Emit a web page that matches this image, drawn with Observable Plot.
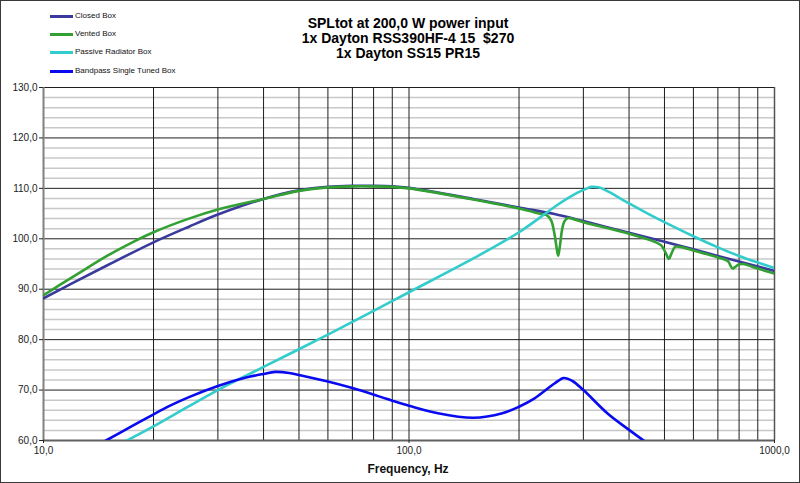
<!DOCTYPE html>
<html>
<head>
<meta charset="utf-8">
<script src="https://cdn.jsdelivr.net/npm/d3@7"></script>
<script src="https://cdn.jsdelivr.net/npm/@observablehq/plot@0.6"></script>
<style>
  html, body { margin: 0; padding: 0; background: #fff; }
  #wrap { position: relative; width: 800px; height: 483px; overflow: hidden; background: #fff;
          font-family: Arial, "Liberation Sans", sans-serif; }
  #header { position: relative; height: 78px; }
  #title { position: absolute; left: 208px; width: 400px; top: 16px; text-align: center;
           font-weight: bold; font-size: 14px; line-height: 15px; color: #000; white-space: pre; }
  .leg { position: absolute; left: 0; height: 10px; width: 200px; }
  .leg .sw { position: absolute; left: 50px; top: 4px; width: 23px; height: 3px; }
  .leg .tx { position: absolute; left: 75px; top: 0; font-size: 8px; line-height: 10px; color: #111; white-space: nowrap; }
  #xlabel { height: 25px; box-sizing: border-box; padding-top: 4px; font-size: 12px; line-height: 14px;
            font-weight: bold; color: #111; position: relative; }
  #xlabel span { position: absolute; left: 308px; width: 200px; text-align: center; }
  #frame { position: absolute; left: 0; top: 0; width: 800px; height: 483px; box-sizing: border-box;
           border: 1px solid #3a3a3a; pointer-events: none; }
  svg { display: block; }
</style>
</head>
<body>
<div id="wrap">
  <div id="header">
    <div id="legend"></div>
    <div id="title"></div>
  </div>
  <div id="chart"></div>
  <div id="xlabel"><span>Frequency, Hz</span></div>
  <div id="frame"></div>
</div>
<script>
// ---- Text ----
const titleLines = ["SPLtot at 200,0 W power input", "1x Dayton RSS390HF-4 15  $270", "1x Dayton SS15 PR15"];
const seriesNames = ["Closed Box", "Vented Box", "Passive Radiator Box", "Bandpass Single Tuned Box"];
const seriesColors = ["#3a3a9e", "#33a033", "#33cccc", "#0a0af0"];

// ---- Axis ticks ----
const xTickLabels = [10, 100, 1000];
const xGrid = [10,20,30,40,50,60,70,80,90,100,200,300,400,500,600,700,800,900,1000];
const yMajor = [60,70,80,90,100,110,120,130];
const yMinor = [62,64,66,68,72,74,76,78,82,84,86,88,92,94,96,98,102,104,106,108,112,114,116,118,122,124,126,128];

// ---- Closed Box ----
const freqClosed = [10,12,15,20,25,30,40,50,60,70,80,90,100,150,200,250,300,400,500,600,700,800,900,1000];
const splClosed  = [88.2,91.2,94.8,99.3,102.4,104.8,107.9,109.6,110.3,110.5,110.5,110.4,110.1,107.9,106.2,104.9,103.5,101.2,99.4,97.9,96.6,95.5,94.5,93.6];

// ---- Vented Box ----
const freqVented = [10,11,12.5,15,17.5,20,25,30,40,50,60,70,80,90,100,150,200,230,239,245,250,253,256,259,262,266,272,285,300,400,470,490,503,514,522,535,560,600,700,745,760,769,780,798,820,900,1000];
const splVented  = [88.8,90.7,93.2,96.7,99.3,101.3,104.0,105.8,107.9,109.5,110.2,110.4,110.4,110.3,110.0,107.8,106.0,104.9,104.6,103.6,101.0,98.6,96.6,98.8,101.6,103.4,104.1,103.8,103.3,101.0,99.4,98.7,97.3,96.0,97.0,98.4,98.3,97.7,96.3,95.6,94.5,94.1,94.4,94.9,95.0,94.1,93.1];

// ---- Passive Radiator Box ----
const freqPR = [16,20,25,30,40,60,80,100,150,200,230,250,270,290,305,315,330,350,400,450,500,600,700,800,900,1000];
const splPR  = [59.1,62.8,66.8,70.0,74.6,81.0,85.7,89.4,96.1,101.3,104.4,106.3,107.9,109.2,109.9,110.3,110.2,109.4,107.0,105.0,103.3,100.5,98.3,96.6,95.3,94.2];

// ---- Bandpass Single Tuned Box ----
const freqBP = [14,15,17.5,20,22.5,25,30,35,40,43,47,50,60,70,84,90,100,120,150,180,200,220,250,265,280,300,350,400,440,460];
const splBP  = [59.0,60.2,62.9,65.2,67.1,68.6,70.8,72.3,73.2,73.6,73.4,73.0,71.7,70.4,68.6,67.9,66.9,65.4,64.5,65.4,66.7,68.3,71.3,72.4,71.8,70.0,65.3,62.1,59.9,58.8];

const toRows = (fs, vs) => fs.map((f, i) => ({f, v: vs[i]}));
const series = [toRows(freqClosed, splClosed), toRows(freqVented, splVented), toRows(freqPR, splPR), toRows(freqBP, splBP)];
const fmt = d => d.toFixed(1).replace(".", ",");

// Title
document.getElementById("title").textContent = titleLines.join("\n");

// Legend
const legendY = [16, 34.3, 52.7, 71];
const legend = document.getElementById("legend");
seriesNames.forEach((name, i) => {
  const item = document.createElement("div");
  item.className = "leg";
  item.style.top = (legendY[i] - 5.5) + "px";
  const sw = document.createElement("div");
  sw.className = "sw";
  sw.style.background = seriesColors[i];
  const tx = document.createElement("div");
  tx.className = "tx";
  tx.textContent = name;
  item.appendChild(sw);
  item.appendChild(tx);
  legend.appendChild(item);
});

const chart = Plot.plot({
  width: 800,
  height: 380,
  marginTop: 9,
  marginBottom: 18,
  marginLeft: 43,
  marginRight: 26,
  style: {fontFamily: 'Arial, "Liberation Sans", sans-serif', fontSize: "10px", color: "#222", background: "#fff"},
  x: {type: "log", domain: [10, 1000]},
  y: {domain: [60, 130]},
  marks: [
    Plot.ruleY(yMinor, {stroke: "#c8c8c8", strokeWidth: 1.5}),
    Plot.ruleY(yMajor.filter(d => d > 60), {stroke: "#1e1e1e", strokeWidth: 1}),
    Plot.ruleX(xGrid.filter(d => d > 10 && d < 1000), {stroke: "#1e1e1e", strokeWidth: 1}),
    Plot.ruleX([1000], {stroke: "#555", strokeWidth: 1.5}),
    Plot.ruleX([10], {stroke: "#808080", strokeWidth: 2}),
    Plot.ruleY([60], {stroke: "#606060", strokeWidth: 2}),
    ...series.map((rows, i) => Plot.line(rows, {x: "f", y: "v", stroke: seriesColors[i], strokeWidth: 2.6, curve: "catmull-rom", clip: true})),
    Plot.axisY({ticks: yMajor, tickFormat: fmt, tickSize: 4, tickPadding: 2, label: null}),
    Plot.axisX({ticks: xTickLabels, tickFormat: fmt, tickSize: 3, tickPadding: 3, label: null})
  ]
});
document.getElementById("chart").appendChild(chart);
</script>
</body>
</html>
